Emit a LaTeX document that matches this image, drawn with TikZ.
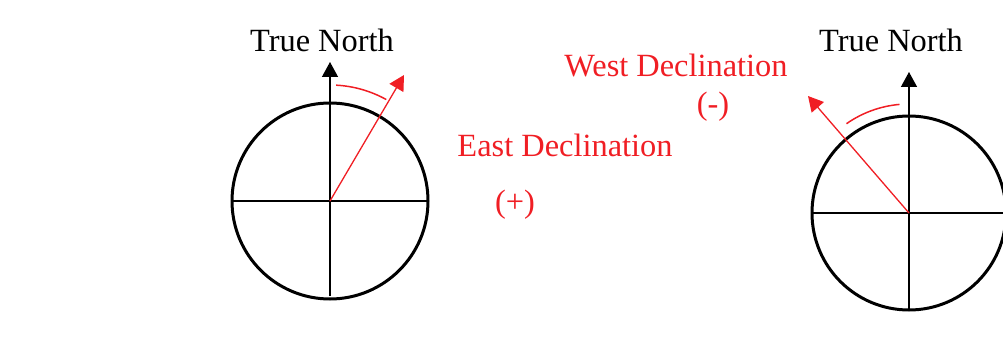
\documentclass[tikz,border=0pt]{standalone}
\usepackage{fontspec}
\setmainfont{Liberation Serif}
\usetikzlibrary{arrows.meta,calc}
\definecolor{c1}{RGB}{0,0,0}
\definecolor{c2}{RGB}{240,30,36}

\begin{document}
\begin{tikzpicture}[x=0.5pt,y=0.5pt,
    axis/.style={draw=c1,line width=0.7pt},
    north/.style={axis,-{Triangle[length=7.5pt,width=8pt]}},
    ring/.style={draw=c1,line width=1.5pt},
    decl/.style={draw=c2,line width=0.65pt,-{Triangle[length=7.5pt,width=8pt]}},
    swing/.style={draw=c2,line width=0.75pt},
    lbl/.style={font=\fontsize{16.2}{19}\selectfont,inner sep=0pt},
    rlbl/.style={lbl,text=c2}]
    \useasboundingbox (0,0) rectangle (1003,338);
    \clip (0,0) rectangle (1003,338);
    \begin{scope} %east declination
        \coordinate (cL) at (330,137);
        \draw[ring] (cL) circle (98);
        \draw[axis] (231,137) -- (428,137);
        \draw[north] (330,42) -- (330,276);
        \draw[decl] (cL) -- (404,263);
        % swing from true north to the needle
        \draw[swing] ($(cL)+(87:116)$) arc[start angle=87,end angle=61,radius=116];
        \node[lbl] (tnL) at (322,298) {True North};
        \node[rlbl] (east) at (565,193) {East Declination};
        \node[rlbl] (plus) at (515,133) {(+)};
    \end{scope}
    \begin{scope} %west declination
        \coordinate (cR) at (909,125);
        \draw[ring] (cR) circle (97);
        \draw[axis] (811,125) -- (1003,125);
        \draw[north] (909,28) -- (909,266);
        \draw[decl] (cR) -- (808,242);
        \draw[swing] ($(cR)+(95:109)$) arc[start angle=95,end angle=125,radius=109];
        \node[lbl] (tnR) at (891,298) {True North};
        \node[rlbl] (west) at (676,272) {West Declination};
        \node[rlbl] (minus) at (713,231) {(-)};
    \end{scope}
\end{tikzpicture}
\end{document}
